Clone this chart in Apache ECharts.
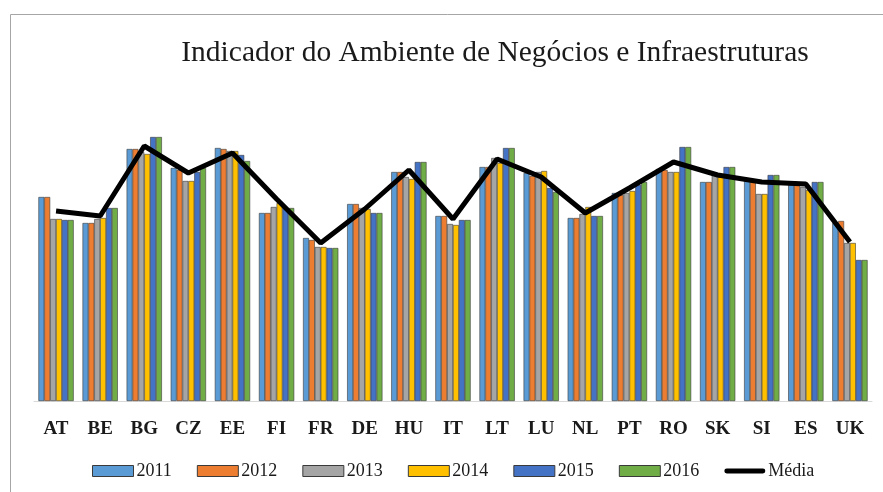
<!DOCTYPE html>
<html>
<head>
<meta charset="utf-8">
<script src="https://cdn.jsdelivr.net/npm/echarts@6/dist/echarts.min.js"></script>
<style>html,body{margin:0;padding:0;background:#fff;}#c{width:883px;height:492px;}</style>
</head>
<body>
<div id="c"></div>
<script>
var categories = ['AT','BE','BG','CZ','EE','FI','FR','DE','HU','IT','LT','LU','NL','PT','RO','SK','SI','ES','UK'];
var s2011 = [204,178,252,233,253,188,163,197,229,185,234,228,183,208,232,219,221,216,178];
var s2012 = [204,178,252,231,252,188,161,197,229,185,234,225,183,206,231,219,219,216,180];
var s2013 = [182,182,249,220,250,194,154,193,224,177,243,229,187,208,229,226,207,214,158];
var s2014 = [182,183,247,220,250,198,154,192,222,176,238,230,194,210,229,224,207,211,158];
var s2015 = [181,193,264,229,246,193,153,188,239,181,253,213,185,216,254,234,226,219,141];
var s2016 = [181,193,264,233,240,193,153,188,239,181,253,209,185,219,254,234,226,219,141];
var media = [190,185,255,228,248,202,158,192,231,182,242,224,188,213,239,226,219,217,159];
var seriesNames = ['2011','2012','2013','2014','2015','2016'];
var seriesData = [s2011,s2012,s2013,s2014,s2015,s2016];
var colors = ['#5B9BD5','#ED7D31','#A5A5A5','#FFC000','#4472C4','#70AD47'];
var serif = "'Liberation Serif','Times New Roman',serif";

var series = seriesNames.map(function(n,i){
  return {
    name: n, type: 'bar', data: seriesData[i],
    barGap: '0%', barCategoryGap: '20%',
    itemStyle: {color: colors[i], borderColor: '#3a3a3a', borderWidth: 0.6},
    z: 2
  };
});
series.push({
  name: 'Média', type: 'line', data: media, symbol: 'none',
  lineStyle: {color: '#000', width: 5}, itemStyle: {color: '#000'}, z: 5
});

var chart = echarts.init(document.getElementById('c'));
chart.setOption({
  animation: false,
  color: colors.concat(['#000']),
  title: {
    text: 'Indicador do Ambiente de Negócios e Infraestruturas',
    left: 490, textAlign: 'center', top: 33,
    textStyle: {fontFamily: serif, fontSize: 29.5, fontWeight: 'normal', color: '#1a1a1a'}
  },
  graphic: [{
    type: 'rect', left: 8, top: 12, silent: true,
    shape: {width: 890, height: 500},
    style: {fill: 'none', stroke: '#a6a6a6', lineWidth: 1}
  }],
  legend: {
    top: 457, left: 87,
    itemWidth: 41, itemHeight: 11, itemGap: 25,
    textStyle: {fontFamily: serif, fontSize: 18, color: '#1a1a1a', padding: [0,0,0,-2]},
    data: seriesNames.map(function(n){return {name:n, icon:'rect', itemStyle:{borderColor:'#3a3a3a', borderWidth:1}};}).concat([{
      name:'Média',
      icon:'path://M0,0L0.01,0L0,0.01Z M2,3L39,3A2.5,2.5 0 0 1 39,8L2,8A2.5,2.5 0 0 1 2,3Z M0,11L0.01,11L0,10.99Z',
      itemStyle:{color:'#000', borderWidth:0}
    }])
  },
  grid: {left: 34, right: 11, top: 101, bottom: 91},
  xAxis: {
    type: 'category', data: categories,
    axisLine: {lineStyle: {color: '#d9d9d9', width: 1}},
    axisTick: {show: false},
    axisLabel: {fontFamily: serif, fontSize: 19, fontWeight: 'bold', color: '#1a1a1a', margin: 19}
  },
  yAxis: {
    type: 'value', min: 0, max: 300, show: false,
    splitLine: {show: false}
  },
  series: series
});
</script>
</body>
</html>
